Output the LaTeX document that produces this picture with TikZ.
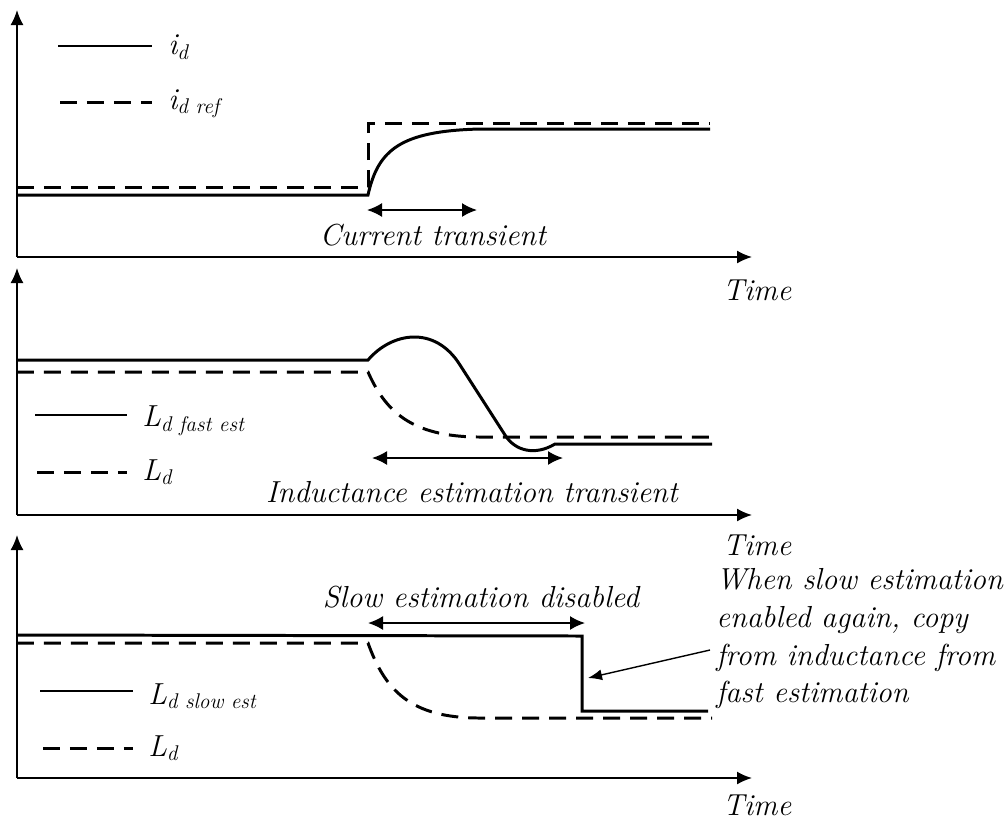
\documentclass[tikz,border=0pt]{standalone}
\usetikzlibrary{arrows.meta}
\begin{document}
\begin{tikzpicture}[x=0.02cm,y=-0.02cm,
    axis/.style={line width=1pt,-{Latex[length=0.3cm,width=0.26cm]}},
    curve/.style={line width=1.7pt},
    refcurve/.style={line width=1.7pt,dash pattern=on 0.34cm off 0.2cm},
    lgdsolid/.style={line width=0.7pt},
    lgddash/.style={line width=1.7pt,dash pattern=on 0.34cm off 0.2cm},
    span/.style={line width=1pt,{Latex[length=0.3cm,width=0.28cm]}-{Latex[length=0.3cm,width=0.28cm]}},
    lbl/.style={font=\fontsize{17.3}{21.5}\selectfont\itshape,inner sep=0pt}]
    \useasboundingbox (0,0) rectangle (1006,819);
    % top panel: current
    \draw [axis] (17,257)--(17,10);
    \draw [axis] (17,257)--(752,257);
    \node[lbl] (time1) at (757,290) {Time};
    \draw [refcurve] (17,187)--(368,187)--(368,123)--(710,123);
    \draw [curve] (17,195)--(368,195) .. controls (378,150) and (400,131) .. (480,129)--(710,129);
    \coordinate (ct1) at (367,210);
    \coordinate (ct2) at (477,210);
    \draw [span] (ct1)--(ct2);
    \node[lbl] (ctrans) at (433,235) {Current transient};
    \draw [lgdsolid] (58,46)--(152,46);
    \node[lbl,anchor=west] (lid) at (168,47) {i\textsubscript{d}};
    \draw [lgddash] (60,102)--(152,102);
    \node[lbl,anchor=west] (lidref) at (168,104) {i\textsubscript{d ref}};
    % middle panel: fast estimation
    \draw [axis] (17,515)--(17,268);
    \draw [axis] (17,515)--(752,515);
    \node[lbl] (time2) at (757,545) {Time};
    \draw [refcurve] (17,372)--(368,372) .. controls (385,410) and (410,437) .. (480,437)--(712,437);
    \draw [curve] (17,360)--(368,360) .. controls (392,332) and (435,325) .. (460,365)--(505,435)
        .. controls (515,451) and (535,456) .. (555,444)--(712,444);
    \coordinate (it1) at (372,458);
    \coordinate (it2) at (563,458);
    \draw [span] (it1)--(it2);
    \node[lbl] (itrans) at (472,492) {Inductance estimation transient};
    \draw [lgdsolid] (35,415)--(127,415);
    \node[lbl,anchor=west] (lfast) at (142,421) {L\textsubscript{d fast est}};
    \draw [lgddash] (37,472)--(127,472);
    \node[lbl,anchor=west] (lref2) at (142,472) {L\textsubscript{d}};
    % bottom panel: slow estimation
    \draw [axis] (17,778)--(17,535);
    \draw [axis] (17,778)--(752,778);
    \node[lbl] (time3) at (757,805) {Time};
    \draw [refcurve] (17,643)--(368,643) .. controls (385,690) and (410,718) .. (480,718)--(712,718);
    \draw [curve] (17,635)--(582,636)--(582,711)--(708,711);
    \coordinate (sd1) at (368,623);
    \coordinate (sd2) at (585,623);
    \draw [span] (sd1)--(sd2);
    \node[lbl] (sdis) at (481,597) {Slow estimation disabled};
    \node[lbl,anchor=north west,align=left] (note) at (716,568)
        {When slow estimation\\enabled again, copy\\from inductance from\\fast estimation};
    \coordinate (nt) at (710,650);
    \coordinate (nh) at (588,678);
    \draw [line width=0.8pt,-{Latex[length=0.28cm,width=0.22cm]}] (nt)--(nh);
    \draw [lgdsolid] (40,691)--(133,691);
    \node[lbl,anchor=west] (lslow) at (148,696) {L\textsubscript{d slow est}};
    \draw [lgddash] (43,748)--(133,748);
    \node[lbl,anchor=west] (lref3) at (148,748) {L\textsubscript{d}};
\end{tikzpicture}
\end{document}
